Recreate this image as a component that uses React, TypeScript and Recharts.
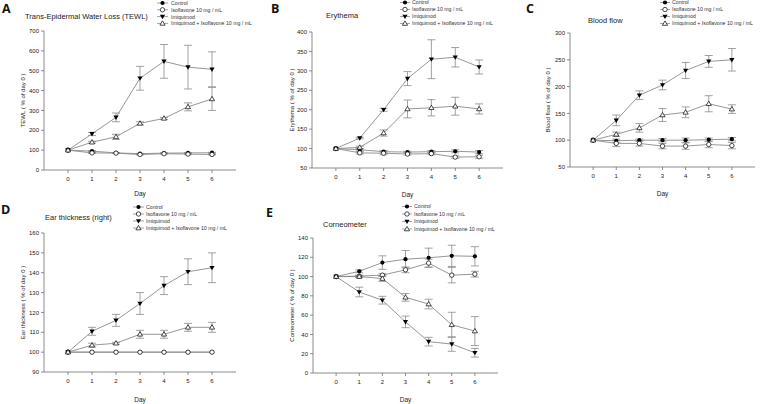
import React from 'react';
import { LineChart, Line, XAxis, YAxis, ErrorBar } from 'recharts';

const FONT = '"Liberation Sans", Arial, sans-serif';
const LINE = '#8a8a8a';
const ERR = '#8a8a8a';
const AXIS = '#6e6e6e';

const days = [0, 1, 2, 3, 4, 5, 6];
const dayTicks = [0, 1, 2, 3, 4, 5, 6];
const seriesNames = ['Control', 'Isoflavone 10 mg / mL', 'Imiquimod', 'Imiquimod + Isoflavone 10 mg / mL'];

// Panel A – TEWL
const tewlControl = [100, 95, 86, 82, 85, 86, 87];
const tewlControlErr = [0, 3, 2, 2, 2, 2, 2];
const tewlIso = [100, 86, 85, 78, 82, 80, 78];
const tewlIsoErr = [0, 3, 2, 2, 2, 3, 2];
const tewlImq = [100, 182, 265, 462, 547, 518, 507];
const tewlImqErr = [0, 8, 22, 60, 85, 110, 88];
const tewlCombo = [100, 140, 167, 235, 260, 318, 358];
const tewlComboErr = [0, 5, 13, 8, 5, 20, 58];
const tewlTicks = [0, 100, 200, 300, 400, 500, 600, 700];

// Panel B – Erythema
const eryControl = [100, 97, 92, 91, 92, 93, 91];
const eryControlErr = [0, 3, 3, 2, 3, 4, 4];
const eryIso = [100, 89, 88, 86, 87, 78, 79];
const eryIsoErr = [0, 3, 4, 3, 3, 3, 4];
const eryImq = [100, 127, 200, 280, 330, 335, 310];
const eryImqErr = [0, 2, 4, 18, 50, 25, 18];
const eryCombo = [100, 103, 140, 202, 205, 209, 202];
const eryComboErr = [0, 3, 8, 23, 21, 23, 13];
const eryTicks = [50, 100, 150, 200, 250, 300, 350, 400];

// Panel C – Blood flow
const bfControl = [100, 99, 100, 100, 100, 101, 102];
const bfControlErr = [0, 3, 2, 3, 4, 3, 3];
const bfIso = [100, 94, 94, 89, 89, 92, 90];
const bfIsoErr = [0, 6, 5, 5, 6, 6, 6];
const bfImq = [100, 137, 184, 203, 230, 247, 250];
const bfImqErr = [0, 10, 8, 9, 15, 11, 21];
const bfCombo = [100, 111, 123, 147, 152, 168, 158];
const bfComboErr = [0, 4, 8, 12, 10, 15, 8];
const bfTicks = [50, 100, 150, 200, 250, 300];

// Panel D – Ear thickness
const earControl = [100, 100, 100, 100, 100, 100, 100];
const earControlErr = [0, 0, 0, 0, 0, 0, 0];
const earIso = [100, 100, 100, 100, 100, 100, 100];
const earIsoErr = [0, 0, 0, 0, 0, 0, 0];
const earImq = [100, 110.5, 116, 124.5, 133.5, 140.5, 142.5];
const earImqErr = [0, 2, 3, 5.5, 4.5, 6.5, 7.5];
const earCombo = [100, 103.5, 104.5, 109, 109, 112.5, 112.5];
const earComboErr = [0, 1, 0.5, 2, 2, 2, 2.5];
const earTicks = [90, 100, 110, 120, 130, 140, 150, 160];

// Panel E – Corneometer
const cmControl = [100, 105.5, 114.5, 118, 119.5, 121.5, 121];
const cmControlErr = [0, 1.5, 7, 9, 10, 11, 10];
const cmIso = [100, 100.5, 101.5, 107, 114, 101.5, 102.5];
const cmIsoErr = [0, 1, 1.5, 3, 4, 8, 3];
const cmImq = [100, 84, 75.5, 53, 32.5, 30, 21];
const cmImqErr = [0, 5, 4, 6, 4.5, 7.5, 4.5];
const cmCombo = [100, 100, 98, 78.5, 71.5, 50, 43.5];
const cmComboErr = [0, 1, 3, 4, 5, 13, 15];
const cmTicks = [0, 20, 40, 60, 80, 100, 120, 140];

function buildRows(c: number[], ce: number[], i: number[], ie: number[], q: number[], qe: number[], m: number[], me: number[]) {
  return days.map((d, k) => ({
    day: d,
    ctrl: c[k], ctrlErr: ce[k],
    iso: i[k], isoErr: ie[k],
    imq: q[k], imqErr: qe[k],
    combo: m[k], comboErr: me[k],
  }));
}

type Shape = 'fc' | 'oc' | 'dt' | 'ut';
function marker(shape: Shape, cx: number, cy: number, key?: string) {
  if (shape === 'fc') return <circle key={key} cx={cx} cy={cy} r={2.1} fill="#000" />;
  if (shape === 'oc') return <circle key={key} cx={cx} cy={cy} r={2.2} fill="#fff" stroke="#000" strokeWidth={0.7} />;
  if (shape === 'dt')
    return <path key={key} d={`M${cx - 2.6},${cy - 1.8} L${cx + 2.6},${cy - 1.8} L${cx},${cy + 2.6} Z`} fill="#000" />;
  return (
    <path key={key} d={`M${cx - 2.6},${cy + 1.8} L${cx + 2.6},${cy + 1.8} L${cx},${cy - 2.6} Z`} fill="#fff" stroke="#000" strokeWidth={0.7} />
  );
}
const dotFn = (shape: Shape) => (p: any) => {
  if (p == null || p.cx == null || p.cy == null) return <g key={`n-${p?.index}`} />;
  return marker(shape, p.cx, p.cy, `d-${shape}-${p.index}`);
};

const seriesDefs: { key: string; shape: Shape }[] = [
  { key: 'ctrl', shape: 'fc' },
  { key: 'iso', shape: 'oc' },
  { key: 'imq', shape: 'dt' },
  { key: 'combo', shape: 'ut' },
];

type PanelCfg = {
  rows: any[];
  plot: { l: number; r: number; t: number; b: number };
  yDomain: [number, number];
  yTicks: number[];
  yLabel: string;
  labelX: number;
  dayBase: number;
};

const panels: PanelCfg[] = [
  {
    rows: buildRows(tewlControl, tewlControlErr, tewlIso, tewlIsoErr, tewlImq, tewlImqErr, tewlCombo, tewlComboErr),
    plot: { l: 44, r: 236, t: 31, b: 170 }, yDomain: [0, 700], yTicks: tewlTicks,
    yLabel: 'TEWL ( % of day 0 )', labelX: 23, dayBase: 195.5,
  },
  {
    rows: buildRows(eryControl, eryControlErr, eryIso, eryIsoErr, eryImq, eryImqErr, eryCombo, eryComboErr),
    plot: { l: 312, r: 503, t: 32, b: 168 }, yDomain: [50, 400], yTicks: eryTicks,
    yLabel: 'Erythema ( % of day 0 )', labelX: 292, dayBase: 197,
  },
  {
    rows: buildRows(bfControl, bfControlErr, bfIso, bfIsoErr, bfImq, bfImqErr, bfCombo, bfComboErr),
    plot: { l: 570, r: 755, t: 33, b: 167 }, yDomain: [50, 300], yTicks: bfTicks,
    yLabel: 'Blood flow ( % of day 0 )', labelX: 548, dayBase: 195.5,
  },
  {
    rows: buildRows(earControl, earControlErr, earIso, earIsoErr, earImq, earImqErr, earCombo, earComboErr),
    plot: { l: 44, r: 236, t: 233, b: 372 }, yDomain: [90, 160], yTicks: earTicks,
    yLabel: 'Ear thickness ( % of day 0 )', labelX: 23, dayBase: 401.5,
  },
  {
    rows: buildRows(cmControl, cmControlErr, cmIso, cmIsoErr, cmImq, cmImqErr, cmCombo, cmComboErr),
    plot: { l: 313, r: 498, t: 238, b: 373 }, yDomain: [0, 140], yTicks: cmTicks,
    yLabel: 'Corneometer ( % of day 0 )', labelX: 292, dayBase: 401.5,
  },
];

const letters = [
  { t: 'A', x: 2, y: 13 },
  { t: 'B', x: 271, y: 13 },
  { t: 'C', x: 526, y: 13 },
  { t: 'D', x: 1, y: 214 },
  { t: 'E', x: 266, y: 217 },
];
const titles = [
  { t: 'Trans-Epidermal Water Loss (TEWL)', x: 25, y: 19 },
  { t: 'Erythema', x: 326, y: 18 },
  { t: 'Blood flow', x: 588, y: 23 },
  { t: 'Ear thickness (right)', x: 45, y: 220 },
  { t: 'Corneometer', x: 323, y: 227 },
];
const legends = [
  { x0: 157, x1: 168, tx: 171, y0: 3, dy: 6.8 },
  { x0: 400, x1: 410, tx: 412, y0: 2.5, dy: 7 },
  { x0: 660, x1: 670, tx: 672, y0: 2.5, dy: 7 },
  { x0: 133, x1: 144, tx: 146, y0: 207, dy: 7 },
  { x0: 402, x1: 412, tx: 414, y0: 206.5, dy: 7.5 },
];

function Panel({ cfg }: { cfg: PanelCfg }) {
  const { plot } = cfg;
  const yw = 2 * (plot.l - cfg.labelX);
  const left = plot.l - yw;
  const mt = 5;
  const mb = 4;
  const top = plot.t - mt;
  const mr = 2;
  const width = plot.r + mr - left;
  const xh = cfg.dayBase - plot.b;
  const height = plot.b + xh + mb - top;
  return (
    <div style={{ position: 'absolute', left, top, width, height }}>
      <LineChart width={width} height={height} data={cfg.rows} margin={{ top: mt, right: mr, left: 0, bottom: mb }}>
        <XAxis
          dataKey="day"
          type="number"
          domain={[-1, 7]}
          ticks={dayTicks}
          interval={0}
          height={xh}
          tickSize={3}
          tickMargin={4}
          tick={{ fontSize: 6, fill: '#222', fontFamily: FONT }}
          axisLine={{ stroke: AXIS, strokeWidth: 0.8 }}
          tickLine={{ stroke: AXIS, strokeWidth: 0.8 }}
          label={{ value: 'Day', position: 'insideBottom', offset: 0, fontSize: 6.5, fill: '#222', fontFamily: FONT }}
        />
        <YAxis
          type="number"
          domain={cfg.yDomain}
          ticks={cfg.yTicks}
          interval={0}
          width={yw}
          tickSize={3}
          tickMargin={2}
          tick={{ fontSize: 6, fill: '#222', fontFamily: FONT }}
          axisLine={{ stroke: AXIS, strokeWidth: 0.8 }}
          tickLine={{ stroke: AXIS, strokeWidth: 0.8 }}
          label={{ value: cfg.yLabel, angle: -90, position: 'center', fontSize: 6, fill: '#222', fontFamily: FONT }}
        />
        {seriesDefs.map((s) => (
          <Line
            key={s.key}
            dataKey={s.key}
            type="linear"
            stroke={LINE}
            strokeWidth={0.9}
            dot={dotFn(s.shape)}
            activeDot={false}
            isAnimationActive={false}
          >
            <ErrorBar dataKey={`${s.key}Err`} width={4} stroke={ERR} strokeWidth={0.8} direction="y" />
          </Line>
        ))}
      </LineChart>
    </div>
  );
}

export default function App() {
  return (
    <div style={{ position: 'absolute', left: 0, top: 0, width: 760, height: 404, background: '#fff', overflow: 'hidden' }}>
      {panels.map((p, i) => (
        <Panel key={i} cfg={p} />
      ))}
      <svg width={760} height={404} style={{ position: 'absolute', left: 0, top: 0, pointerEvents: 'none' }}>
        {letters.map((l) => (
          <text key={l.t} x={l.x} y={l.y} fontSize={12.5} fontWeight="bold" fontFamily='"Open Sans", "Noto Sans", sans-serif' fill="#111">
            {l.t}
          </text>
        ))}
        {titles.map((t) => (
          <text key={t.t} x={t.x} y={t.y} fontSize={7.5} fontFamily={FONT} fill="#222">
            {t.t}
          </text>
        ))}
        {legends.map((lg, li) => (
          <g key={li}>
            {seriesNames.map((name, k) => {
              const cy = lg.y0 + k * lg.dy;
              const mx = (lg.x0 + lg.x1) / 2;
              return (
                <g key={name}>
                  <line x1={lg.x0} x2={lg.x1} y1={cy} y2={cy} stroke={LINE} strokeWidth={0.8} />
                  {marker(seriesDefs[k].shape, mx, cy)}
                  <text x={lg.tx} y={cy + 1.9} fontSize={5.2} fontFamily={FONT} fill="#333">
                    {name}
                  </text>
                </g>
              );
            })}
          </g>
        ))}
      </svg>
    </div>
  );
}
